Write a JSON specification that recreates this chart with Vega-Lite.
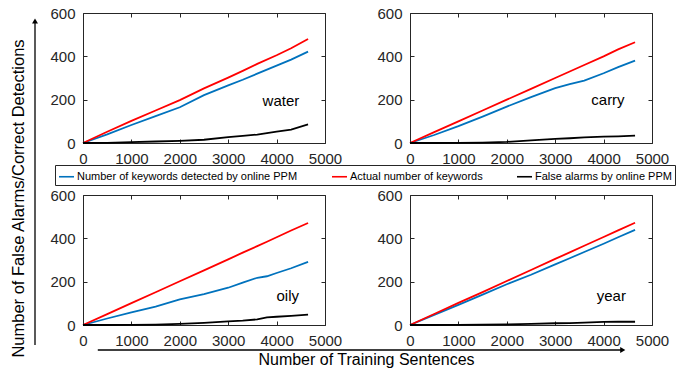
{
  "$schema": "https://vega.github.io/schema/vega-lite/v6.json",
  "background": "white",
  "padding": {"left": 10, "top": 5, "right": 5, "bottom": 2},
  "config": {
    "font": "Liberation Sans",
    "view": {"stroke": "#262626", "strokeWidth": 1},
    "axis": {"grid": false, "domain": false, "tickColor": "#262626", "tickSize": -4, "tickWidth": 1, "labelFontSize": 15, "labelColor": "#262626", "labelPadding": 12, "labelFlush": false, "labelOverlap": false, "titleFontSize": 16, "titleFontWeight": "normal", "titleColor": "black", "labelFont": "Liberation Sans", "titleFont": "Liberation Sans"},
    "legend": {"orient": "none", "legendX": 20, "legendY": 152, "direction": "horizontal", "symbolType": "stroke", "symbolSize": 225, "symbolStrokeWidth": 1.6, "labelFontSize": 11, "labelFont": "Liberation Sans", "labelColor": "black", "labelOffset": 2, "columnPadding": 30, "padding": 3, "strokeColor": "#262626", "fillColor": "white", "labelLimit": 400}
  },
  "datasets": {
    "d": [
      {"word": "water", "x": 0, "detected": 0, "actual": 0, "alarms": 0},
      {"word": "water", "x": 500, "detected": 40, "actual": 52, "alarms": 1},
      {"word": "water", "x": 1000, "detected": 83, "actual": 102, "alarms": 4},
      {"word": "water", "x": 1500, "detected": 124, "actual": 150, "alarms": 7},
      {"word": "water", "x": 2000, "detected": 165, "actual": 198, "alarms": 10},
      {"word": "water", "x": 2500, "detected": 221, "actual": 252, "alarms": 15},
      {"word": "water", "x": 3000, "detected": 266, "actual": 302, "alarms": 27},
      {"word": "water", "x": 3300, "detected": 292, "actual": 333, "alarms": 33},
      {"word": "water", "x": 3600, "detected": 320, "actual": 365, "alarms": 39},
      {"word": "water", "x": 4000, "detected": 357, "actual": 405, "alarms": 52},
      {"word": "water", "x": 4300, "detected": 385, "actual": 437, "alarms": 62},
      {"word": "water", "x": 4650, "detected": 422, "actual": 480, "alarms": 86},
      {"word": "carry", "x": 0, "detected": 0, "actual": 0, "alarms": 0},
      {"word": "carry", "x": 500, "detected": 37, "actual": 50, "alarms": 0},
      {"word": "carry", "x": 1000, "detected": 78, "actual": 100, "alarms": 1},
      {"word": "carry", "x": 1500, "detected": 122, "actual": 150, "alarms": 2},
      {"word": "carry", "x": 2000, "detected": 168, "actual": 200, "alarms": 5},
      {"word": "carry", "x": 2500, "detected": 212, "actual": 250, "alarms": 12},
      {"word": "carry", "x": 3000, "detected": 253, "actual": 300, "alarms": 19},
      {"word": "carry", "x": 3300, "detected": 272, "actual": 330, "alarms": 22},
      {"word": "carry", "x": 3600, "detected": 288, "actual": 360, "alarms": 26},
      {"word": "carry", "x": 4000, "detected": 322, "actual": 400, "alarms": 29},
      {"word": "carry", "x": 4300, "detected": 350, "actual": 432, "alarms": 31},
      {"word": "carry", "x": 4650, "detected": 380, "actual": 465, "alarms": 34},
      {"word": "oily", "x": 0, "detected": 0, "actual": 0, "alarms": 0},
      {"word": "oily", "x": 500, "detected": 30, "actual": 50, "alarms": 0},
      {"word": "oily", "x": 1000, "detected": 58, "actual": 101, "alarms": 1},
      {"word": "oily", "x": 1500, "detected": 85, "actual": 151, "alarms": 2},
      {"word": "oily", "x": 2000, "detected": 118, "actual": 202, "alarms": 5},
      {"word": "oily", "x": 2500, "detected": 143, "actual": 252, "alarms": 10},
      {"word": "oily", "x": 3000, "detected": 172, "actual": 303, "alarms": 17},
      {"word": "oily", "x": 3300, "detected": 196, "actual": 334, "alarms": 20},
      {"word": "oily", "x": 3600, "detected": 218, "actual": 364, "alarms": 26},
      {"word": "oily", "x": 3800, "detected": 225, "actual": 384, "alarms": 35},
      {"word": "oily", "x": 4000, "detected": 240, "actual": 405, "alarms": 38},
      {"word": "oily", "x": 4300, "detected": 262, "actual": 436, "alarms": 42},
      {"word": "oily", "x": 4650, "detected": 291, "actual": 471, "alarms": 48},
      {"word": "year", "x": 0, "detected": 0, "actual": 0, "alarms": 0},
      {"word": "year", "x": 500, "detected": 47, "actual": 51, "alarms": 0},
      {"word": "year", "x": 1000, "detected": 93, "actual": 102, "alarms": 1},
      {"word": "year", "x": 1500, "detected": 140, "actual": 152, "alarms": 2},
      {"word": "year", "x": 2000, "detected": 188, "actual": 203, "alarms": 3},
      {"word": "year", "x": 2500, "detected": 232, "actual": 254, "alarms": 5},
      {"word": "year", "x": 3000, "detected": 280, "actual": 305, "alarms": 8},
      {"word": "year", "x": 3300, "detected": 308, "actual": 335, "alarms": 9},
      {"word": "year", "x": 3600, "detected": 337, "actual": 366, "alarms": 11},
      {"word": "year", "x": 4000, "detected": 375, "actual": 406, "alarms": 14},
      {"word": "year", "x": 4300, "detected": 405, "actual": 437, "alarms": 15},
      {"word": "year", "x": 4650, "detected": 439, "actual": 472, "alarms": 15}
    ]
  },
  "hconcat": [
    {
      "width": 1, "height": 332,
      "view": {"stroke": null},
      "data": {"values": [{}]},
      "layer": [
        {"mark": {"type": "rule", "color": "black", "strokeWidth": 1.3},
         "encoding": {
           "x": {"datum": 0, "type": "quantitative", "scale": {"domain": [0, 1]}, "axis": null},
           "y": {"datum": 0, "type": "quantitative", "scale": {"domain": [0, 1]}, "axis": {"title": "Number of False Alarms/Correct Detections", "domain": false, "ticks": false, "labels": false, "titlePadding": 9, "titleY": 185, "titleFontSize": 16.5}},
           "y2": {"datum": 0.976}}},
        {"mark": {"type": "point", "shape": "triangle-up", "filled": true, "color": "black", "size": 35, "opacity": 1},
         "encoding": {
           "x": {"datum": 0, "type": "quantitative"},
           "y": {"datum": 0.976, "type": "quantitative"}}}
      ]
    },
    {
      "spacing": -2,
      "vconcat": [
        {
          "spacing": 20,
          "vconcat": [
            {
              "bounds": "flush",
              "spacing": 85,
              "hconcat": [
                {
                  "width": 242, "height": 130,
                  "layer": [
                    {"data": {"name": "d"},
                     "transform": [{"filter": "datum.word === 'water'"}, {"fold": ["detected", "actual", "alarms"], "as": ["series", "y"]}],
                     "mark": {"type": "line", "strokeWidth": 1.8},
                     "encoding": {
                       "x": {"field": "x", "type": "quantitative", "scale": {"domain": [0, 5000], "nice": false}, "axis": {"values": [0, 1000, 2000, 3000, 4000, 5000], "format": "d", "orient": "bottom", "title": null}},
                       "y": {"field": "y", "type": "quantitative", "scale": {"domain": [0, 600], "nice": false}, "axis": {"values": [0, 200, 400, 600], "format": "d", "orient": "left", "title": null}},
                       "color": {"field": "series", "type": "nominal", "scale": {"domain": ["detected", "actual", "alarms"], "range": ["#0072BD", "#FF0000", "#000000"]}, "legend": {"title": null, "labelExpr": "datum.value == 'detected' ? 'Number of keywords detected by online PPM' : datum.value == 'actual' ? 'Actual number of keywords' : 'False alarms by online PPM'"}}
                     }},
                    {"data": {"name": "d"},
                     "transform": [{"filter": "datum.word === 'water'"}, {"fold": ["detected", "actual", "alarms"], "as": ["series", "y"]}],
                     "mark": {"type": "point", "opacity": 0},
                     "encoding": {
                       "x": {"field": "x", "type": "quantitative", "axis": {"values": [0, 1000, 2000, 3000, 4000, 5000], "orient": "top", "labels": false, "title": null}},
                       "y": {"field": "y", "type": "quantitative", "axis": {"values": [0, 200, 400, 600], "orient": "right", "labels": false, "title": null}}
                     }},
                    {"data": {"values": [{}]},
                     "mark": {"type": "text", "fontSize": 15, "color": "black", "align": "center", "baseline": "middle"},
                     "encoding": {
                       "x": {"datum": 4090, "type": "quantitative", "axis": null},
                       "y": {"datum": 192, "type": "quantitative", "axis": null},
                       "text": {"value": "water"}}}
                  ],
                  "resolve": {"axis": {"x": "independent", "y": "independent"}}
                },
                {
                  "width": 242, "height": 130,
                  "layer": [
                    {"data": {"name": "d"},
                     "transform": [{"filter": "datum.word === 'carry'"}, {"fold": ["detected", "actual", "alarms"], "as": ["series", "y"]}],
                     "mark": {"type": "line", "strokeWidth": 1.8},
                     "encoding": {
                       "x": {"field": "x", "type": "quantitative", "scale": {"domain": [0, 5000], "nice": false}, "axis": {"values": [0, 1000, 2000, 3000, 4000, 5000], "format": "d", "orient": "bottom", "title": null}},
                       "y": {"field": "y", "type": "quantitative", "scale": {"domain": [0, 600], "nice": false}, "axis": {"values": [0, 200, 400, 600], "format": "d", "orient": "left", "title": null}},
                       "color": {"field": "series", "type": "nominal", "scale": {"domain": ["detected", "actual", "alarms"], "range": ["#0072BD", "#FF0000", "#000000"]}, "legend": {"title": null, "labelExpr": "datum.value == 'detected' ? 'Number of keywords detected by online PPM' : datum.value == 'actual' ? 'Actual number of keywords' : 'False alarms by online PPM'"}}
                     }},
                    {"data": {"name": "d"},
                     "transform": [{"filter": "datum.word === 'carry'"}, {"fold": ["detected", "actual", "alarms"], "as": ["series", "y"]}],
                     "mark": {"type": "point", "opacity": 0},
                     "encoding": {
                       "x": {"field": "x", "type": "quantitative", "axis": {"values": [0, 1000, 2000, 3000, 4000, 5000], "orient": "top", "labels": false, "title": null}},
                       "y": {"field": "y", "type": "quantitative", "axis": {"values": [0, 200, 400, 600], "orient": "right", "labels": false, "title": null}}
                     }},
                    {"data": {"values": [{}]},
                     "mark": {"type": "text", "fontSize": 15, "color": "black", "align": "center", "baseline": "middle"},
                     "encoding": {
                       "x": {"datum": 4090, "type": "quantitative", "axis": null},
                       "y": {"datum": 198, "type": "quantitative", "axis": null},
                       "text": {"value": "carry"}}}
                  ],
                  "resolve": {"axis": {"x": "independent", "y": "independent"}}
                }
              ]
            },
            {
              "bounds": "flush",
              "spacing": 85,
              "hconcat": [
                {
                  "width": 242, "height": 130,
                  "layer": [
                    {"data": {"name": "d"},
                     "transform": [{"filter": "datum.word === 'oily'"}, {"fold": ["detected", "actual", "alarms"], "as": ["series", "y"]}],
                     "mark": {"type": "line", "strokeWidth": 1.8},
                     "encoding": {
                       "x": {"field": "x", "type": "quantitative", "scale": {"domain": [0, 5000], "nice": false}, "axis": {"values": [0, 1000, 2000, 3000, 4000, 5000], "format": "d", "orient": "bottom", "title": null}},
                       "y": {"field": "y", "type": "quantitative", "scale": {"domain": [0, 600], "nice": false}, "axis": {"values": [0, 200, 400, 600], "format": "d", "orient": "left", "title": null}},
                       "color": {"field": "series", "type": "nominal", "scale": {"domain": ["detected", "actual", "alarms"], "range": ["#0072BD", "#FF0000", "#000000"]}, "legend": {"title": null, "labelExpr": "datum.value == 'detected' ? 'Number of keywords detected by online PPM' : datum.value == 'actual' ? 'Actual number of keywords' : 'False alarms by online PPM'"}}
                     }},
                    {"data": {"name": "d"},
                     "transform": [{"filter": "datum.word === 'oily'"}, {"fold": ["detected", "actual", "alarms"], "as": ["series", "y"]}],
                     "mark": {"type": "point", "opacity": 0},
                     "encoding": {
                       "x": {"field": "x", "type": "quantitative", "axis": {"values": [0, 1000, 2000, 3000, 4000, 5000], "orient": "top", "labels": false, "title": null}},
                       "y": {"field": "y", "type": "quantitative", "axis": {"values": [0, 200, 400, 600], "orient": "right", "labels": false, "title": null}}
                     }},
                    {"data": {"values": [{}]},
                     "mark": {"type": "text", "fontSize": 15, "color": "black", "align": "center", "baseline": "middle"},
                     "encoding": {
                       "x": {"datum": 4230, "type": "quantitative", "axis": null},
                       "y": {"datum": 135, "type": "quantitative", "axis": null},
                       "text": {"value": "oily"}}}
                  ],
                  "resolve": {"axis": {"x": "independent", "y": "independent"}}
                },
                {
                  "width": 242, "height": 130,
                  "layer": [
                    {"data": {"name": "d"},
                     "transform": [{"filter": "datum.word === 'year'"}, {"fold": ["detected", "actual", "alarms"], "as": ["series", "y"]}],
                     "mark": {"type": "line", "strokeWidth": 1.8},
                     "encoding": {
                       "x": {"field": "x", "type": "quantitative", "scale": {"domain": [0, 5000], "nice": false}, "axis": {"values": [0, 1000, 2000, 3000, 4000, 5000], "format": "d", "orient": "bottom", "title": null}},
                       "y": {"field": "y", "type": "quantitative", "scale": {"domain": [0, 600], "nice": false}, "axis": {"values": [0, 200, 400, 600], "format": "d", "orient": "left", "title": null}},
                       "color": {"field": "series", "type": "nominal", "scale": {"domain": ["detected", "actual", "alarms"], "range": ["#0072BD", "#FF0000", "#000000"]}, "legend": {"title": null, "labelExpr": "datum.value == 'detected' ? 'Number of keywords detected by online PPM' : datum.value == 'actual' ? 'Actual number of keywords' : 'False alarms by online PPM'"}}
                     }},
                    {"data": {"name": "d"},
                     "transform": [{"filter": "datum.word === 'year'"}, {"fold": ["detected", "actual", "alarms"], "as": ["series", "y"]}],
                     "mark": {"type": "point", "opacity": 0},
                     "encoding": {
                       "x": {"field": "x", "type": "quantitative", "axis": {"values": [0, 1000, 2000, 3000, 4000, 5000], "orient": "top", "labels": false, "title": null}},
                       "y": {"field": "y", "type": "quantitative", "axis": {"values": [0, 200, 400, 600], "orient": "right", "labels": false, "title": null}}
                     }},
                    {"data": {"values": [{}]},
                     "mark": {"type": "text", "fontSize": 15, "color": "black", "align": "center", "baseline": "middle"},
                     "encoding": {
                       "x": {"datum": 4160, "type": "quantitative", "axis": null},
                       "y": {"datum": 135, "type": "quantitative", "axis": null},
                       "text": {"value": "year"}}}
                  ],
                  "resolve": {"axis": {"x": "independent", "y": "independent"}}
                }
              ]
            }
          ]
        },
        {
          "width": 548, "height": 2,
          "view": {"stroke": null},
          "data": {"values": [{}]},
          "layer": [
            {"mark": {"type": "rule", "color": "black", "strokeWidth": 1.3},
             "encoding": {
               "x": {"datum": 0.027, "type": "quantitative", "scale": {"domain": [0, 1]}, "axis": {"title": "Number of Training Sentences", "domain": false, "ticks": false, "labels": false, "titlePadding": -1, "titleX": 283}},
               "x2": {"datum": 0.985},
               "y": {"datum": 1, "type": "quantitative", "scale": {"domain": [0, 1]}, "axis": null}}},
            {"mark": {"type": "point", "shape": "triangle-right", "filled": true, "color": "black", "size": 35, "opacity": 1},
             "encoding": {
               "x": {"datum": 0.985, "type": "quantitative"},
               "y": {"datum": 1, "type": "quantitative"}}}
          ]
        }
      ]
    }
  ],
  "spacing": 11
}
